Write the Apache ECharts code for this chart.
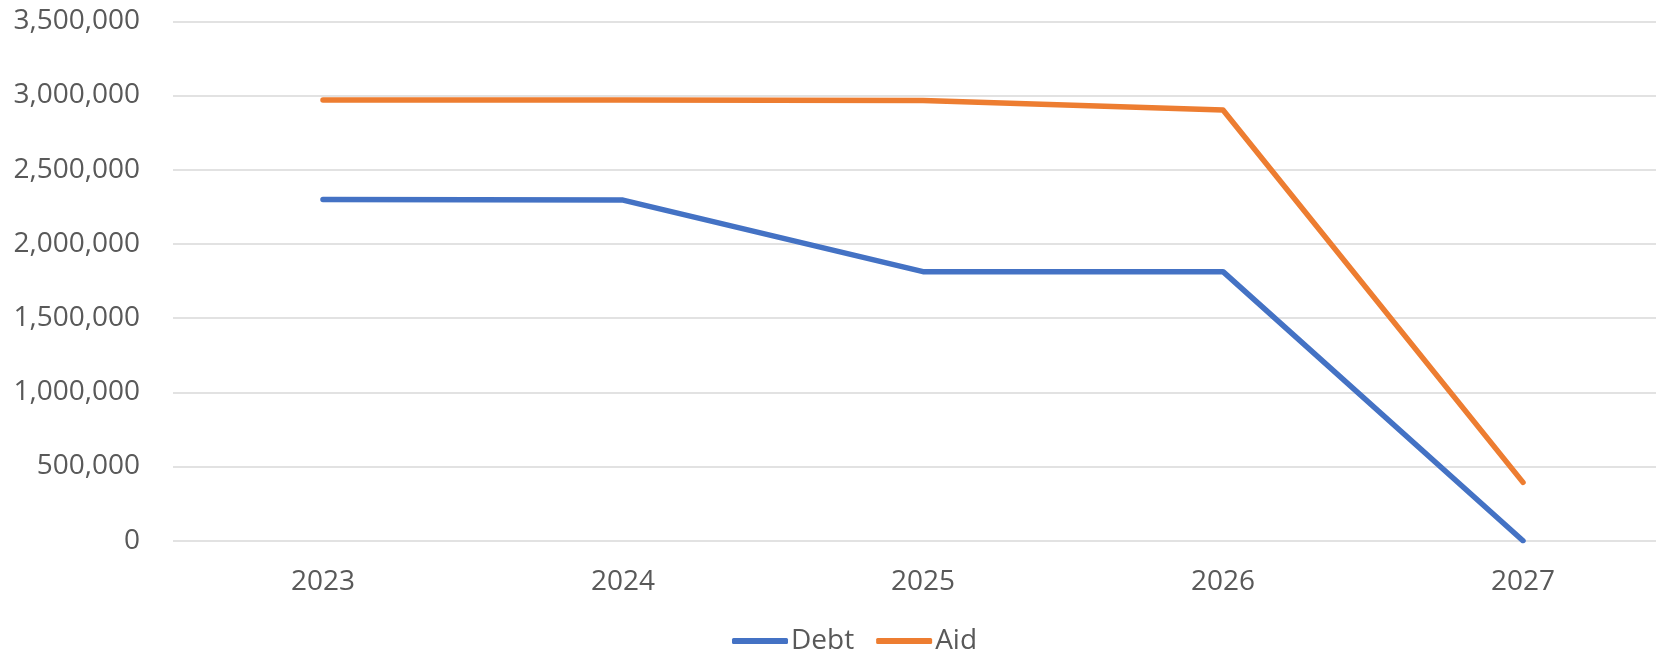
<!DOCTYPE html>
<html>
<head>
<meta charset="utf-8">
<script src="https://cdn.jsdelivr.net/npm/echarts@6/dist/echarts.min.js"></script>
<style>
	html,body{margin:0;padding:0;background:#fff;}
	#mainChart{width:1656px;height:659px;}
</style>
</head>
<body>
<div id="mainChart"></div>
<script>
	var years = ['2023', '2024', '2025', '2026', '2027'];
	var debtValues = [2300000, 2295000, 1813000, 1813000, 0];
	var aidValues = [2970000, 2970000, 2967000, 2902000, 393000];
	var yTicks = [0, 500000, 1000000, 1500000, 2000000, 2500000, 3000000, 3500000];

	var fontName = '"Open Sans", sans-serif';
	var textColor = '#595959';

	function fmt(v){
		return String(v).replace(/\B(?=(\d{3})+(?!\d))/g, ',');
	}

	var options = {
		animation: false,
		grid: {
			left: 173,
			top: 21.3,
			width: 1500,
			height: 519.4,
			outerBoundsMode: 'none',
			containLabel: false
		},
		legend: {
			top: 627,
			left: 732,
			padding: 0,
			icon: 'roundRect',
			itemWidth: 56,
			itemHeight: 6,
			itemGap: 22,
			textStyle: {
				fontFamily: fontName,
				fontSize: 28,
				color: textColor,
				padding: [0, 0, 0, -2]
			},
			data: ['Debt', 'Aid']
		},
		xAxis: {
			type: 'category',
			data: years,
			boundaryGap: true,
			axisLine: { show: false },
			axisTick: { show: false },
			axisLabel: {
				margin: 27,
				fontFamily: fontName,
				fontSize: 28,
				color: textColor
			}
		},
		yAxis: {
			type: 'value',
			min: yTicks[0],
			max: yTicks[yTicks.length - 1],
			interval: 500000,
			axisLine: { show: false },
			axisTick: { show: false },
			axisLabel: {
				margin: 33,
				fontFamily: fontName,
				fontSize: 28,
				color: textColor,
				formatter: fmt
			},
			splitLine: {
				lineStyle: { color: '#d9d9d9', width: 1.5 }
			}
		},
		series: [
			{
				name: 'Debt',
				type: 'line',
				data: debtValues,
				symbol: 'none',
				color: '#4472C4',
				lineStyle: { width: 5.5, cap: 'round', join: 'round' }
			},
			{
				name: 'Aid',
				type: 'line',
				data: aidValues,
				symbol: 'none',
				color: '#ED7D31',
				lineStyle: { width: 5.5, cap: 'round', join: 'round' }
			}
		]
	};

	var mainChart = echarts.init(document.getElementById('mainChart'));
	mainChart.setOption(options);
</script>
</body>
</html>
